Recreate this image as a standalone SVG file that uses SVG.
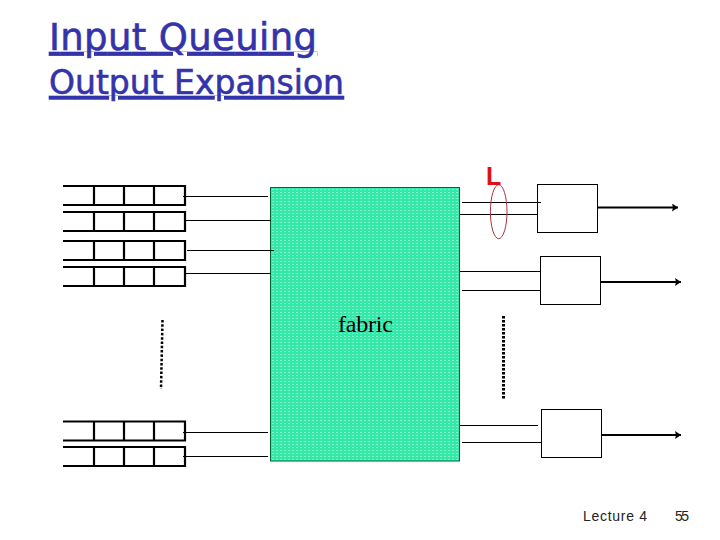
<svg xmlns="http://www.w3.org/2000/svg" width="720" height="540" viewBox="0 0 720 540">
<style>
.q{fill:none;stroke:#000;stroke-width:2.200}
.t{font-family:"DejaVu Sans",sans-serif;fill:#3333aa;stroke:#3333aa;stroke-width:.6;text-decoration:underline;text-decoration-thickness:2.500px;text-underline-offset:2px}
.w{stroke:#000;stroke-width:1;fill:none}
.b{fill:#fff;stroke:#000;stroke-width:1}
.o{stroke:#000;stroke-width:2;fill:none;marker-end:url(#a)}
.f{font-family:"Liberation Sans",sans-serif;font-size:14px;fill:#222}
</style>
<defs>
<marker id="a" markerUnits="userSpaceOnUse" markerWidth="7" markerHeight="8" refX="6" refY="4" orient="auto"><path d="M0 0L6 4L0 8L1 4z" fill="#000"/></marker>
<pattern id="p" width="4" height="3" patternUnits="userSpaceOnUse"><rect width="4" height="3" fill="#33e8a8"/><rect width="2" height="1" fill="#86f0ca"/></pattern>
<g id="r"><path class="q" d="M63 0H185V19H63M94 0V19M124 0V19M154 0V19M185 0V19"/></g>
</defs>
<text class="t" x="49" y="50" font-size="37" textLength="268">Input Queuing</text>
<text class="t" x="49" y="94" font-size="33" textLength="295">Output Expansion</text>
<g id="queues">
<use id="q1" href="#r" y="186"/>
<use id="q2" href="#r" y="212"/>
<use id="q3" href="#r" y="241"/>
<use id="q4" href="#r" y="267"/>
<use id="q5" href="#r" y="421.500"/>
<use id="q6" href="#r" y="447"/>
</g>
<g id="fabric">
<rect x="270.500" y="187.500" width="189" height="273.500" fill="url(#p)" stroke="#063" stroke-width="1"/>
<text x="338" y="332" font-family="Liberation Serif,serif" font-size="24" textLength="55">fabric</text>
</g>
<g id="box1"><rect class="b" x="537.500" y="184.500" width="60" height="48"/></g>
<g id="box2"><rect class="b" x="540.500" y="256.500" width="60" height="48"/></g>
<g id="box3"><rect class="b" x="541.500" y="409.500" width="60" height="48"/></g>
<g id="connectors">
<path class="w" d="M183 196.500H268M185 220.500H271M187 250.500H274M185 273.500H271M183 432.500H268M183 456.500H268"/>
<path class="w" d="M462 202.500H541M460 214.500H537M460 271.500H540M462 290.500H540M460 425.500H538M462 442.500H541"/>
<path class="o" d="M597 207.500H678"/>
<path class="o" d="M600 282H681"/>
<path class="o" d="M602 435H681"/>
<path d="M162.500 320L161 389" stroke="#000" stroke-width="2.500" stroke-dasharray="2.500 1.800" fill="none"/>
<path d="M503.500 316V399" stroke="#000" stroke-width="3" stroke-dasharray="2.500 1.500" fill="none"/>
</g>
<g id="link-label">
<ellipse cx="498.700" cy="211.700" rx="8.300" ry="27" fill="none" stroke="#a83040" stroke-width="1"/>
<text x="486" y="185" font-family="Liberation Sans,sans-serif" font-weight="700" font-size="25" fill="#dd1111">L</text>
</g>
<text class="f" x="583" y="521" textLength="64">Lecture 4</text>
<text class="f" x="675" y="521" textLength="14">55</text>
</svg>
